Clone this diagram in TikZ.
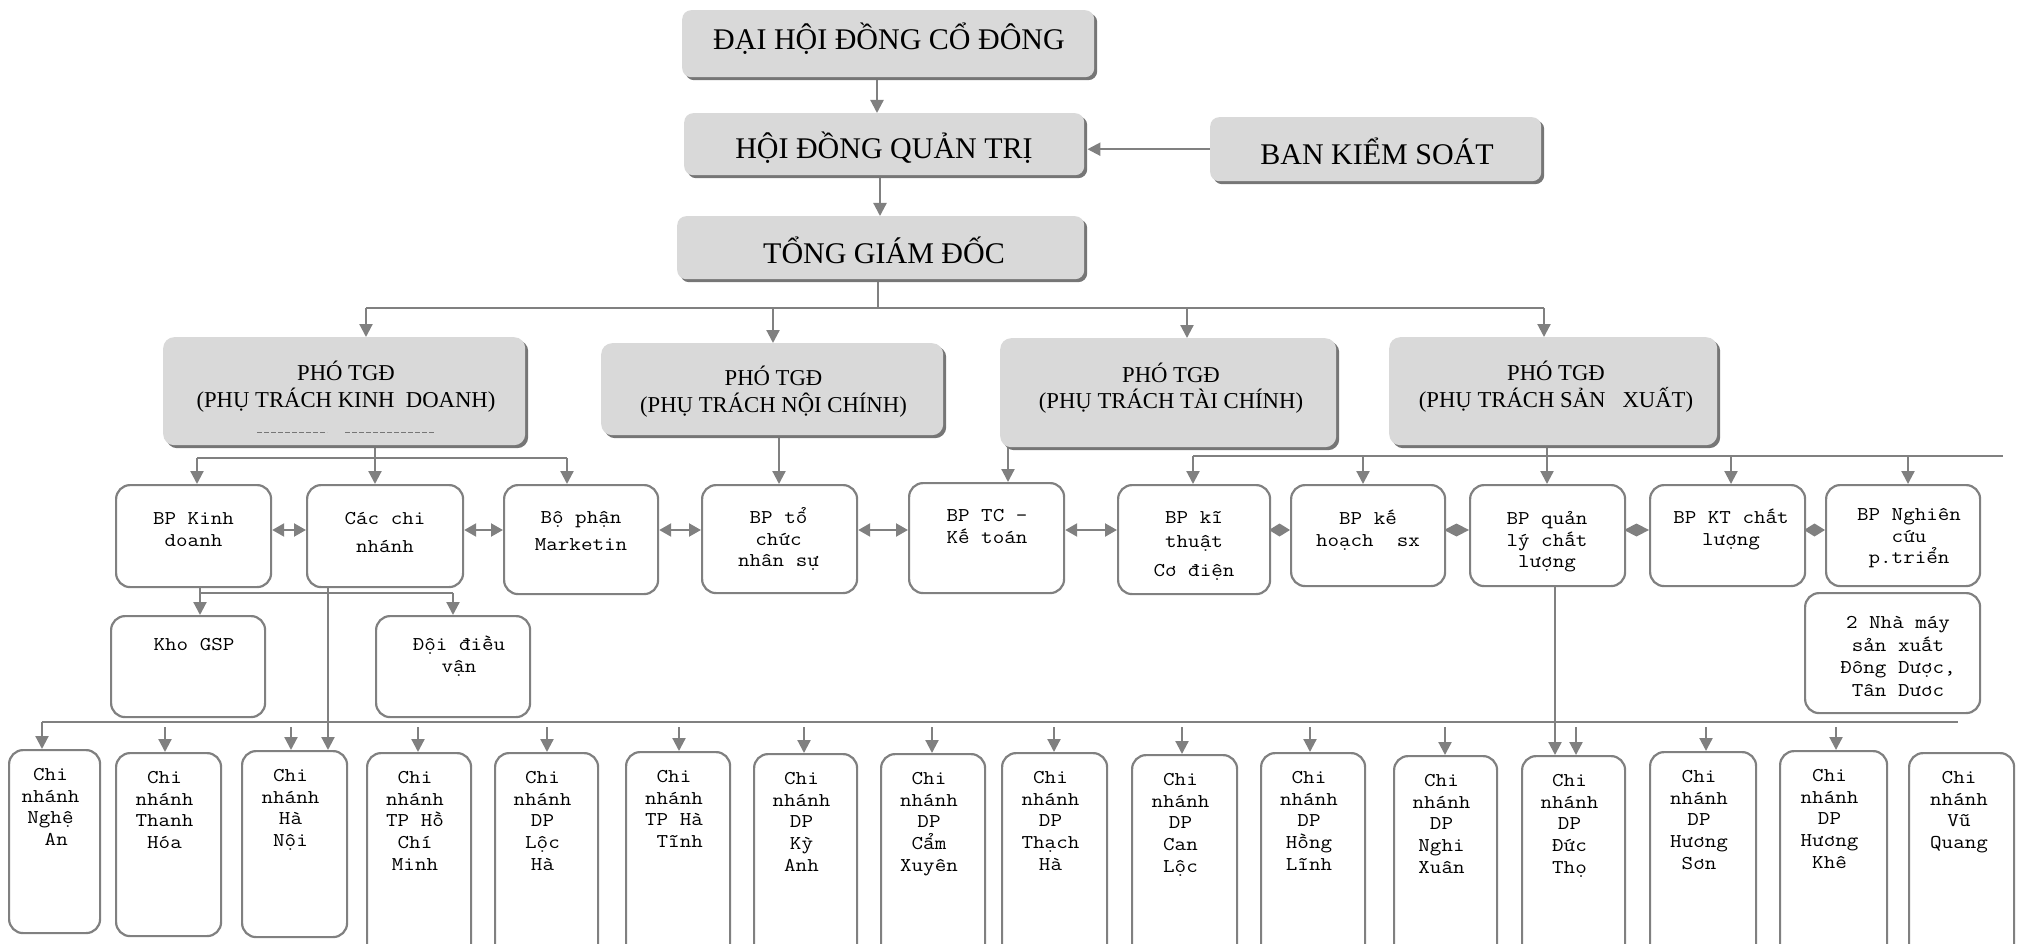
\documentclass[tikz,border=0pt]{standalone}
\usepackage{fontspec}
\setmainfont{Liberation Serif}
\newfontfamily\monof[FakeStretch=1.15]{lmmono12-regular.otf}
\usetikzlibrary{arrows.meta,shadows}
\pgfdeclarelayer{bg}
\pgfsetlayers{bg,main}
\definecolor{ln}{RGB}{128,128,128}
\definecolor{gf}{RGB}{217,217,217}
\definecolor{gs}{RGB}{118,118,118}
\newcommand\fs{\rule{0pt}{16pt}}
\begin{document}
\begin{tikzpicture}[x=1pt,y=-1pt,
  gbox/.style={fill=gf, draw=none, rounded corners=9pt, anchor=north west, inner sep=0pt,
    drop shadow={shadow xshift=3pt, shadow yshift=-3pt, fill=gs, opacity=1}},
  wbox/.style={draw=ln, line width=2.2pt, rounded corners=14pt, fill=white, anchor=north west, inner sep=0pt},
  ttl/.style={font=\fontsize{30}{34}\selectfont, anchor=base, inner sep=0pt},
  sub/.style={font=\fontsize{22.7}{27}\selectfont, anchor=base, inner sep=0pt},
  mt/.style={font={\monof\fontsize{19.5}{21.8}\selectfont\lineskiplimit=-50pt\relax}, align=center, anchor=north, inner sep=0pt},
  con/.style={draw=ln, line width=2.2pt},
  arr/.style={con, -{Triangle[width=13pt,length=13pt]}},
  darr/.style={con, {Triangle[width=13pt,length=12pt]}-{Triangle[width=13pt,length=12pt]}},
  dmd/.style={con, -{Diamond[width=13pt,length=#1]}},
]
\useasboundingbox (0,0) rectangle (2028,944);

% ---------- top gray boxes ----------
\node[gbox, minimum width=412pt, minimum height=67pt] (dh) at (682,10) {};
\node[gbox, minimum width=400pt, minimum height=62pt] (hd) at (684,113) {};
\node[gbox, minimum width=331pt, minimum height=64pt] (bks) at (1210,117) {};
\node[gbox, minimum width=407pt, minimum height=63pt] (tgd) at (677,216) {};
\node[ttl] (dhT) at (889,50) {ĐẠI HỘI ĐỒNG CỔ ĐÔNG};
\node[ttl] (hdT) at (884,159) {HỘI ĐỒNG QUẢN TRỊ};
\node[ttl] (tgdT) at (884,263) {TỔNG GIÁM ĐỐC};
\node[ttl] (bksT) at (1377,165) {BAN KIỂM SOÁT};

% ---------- deputy boxes ----------
\node[gbox, rounded corners=11pt, minimum width=362pt, minimum height=108pt] (pkd) at (163,337) {};
\node[gbox, rounded corners=11pt, minimum width=342pt, minimum height=92pt] (pnc) at (601,343) {};
\node[gbox, rounded corners=11pt, minimum width=336pt, minimum height=109pt] (ptc) at (1000,338) {};
\node[gbox, rounded corners=11pt, minimum width=328pt, minimum height=108pt] (psx) at (1389,337) {};
\node[sub] (pkdA) at (346,380) {PHÓ TGĐ};
\node[sub] (pkdB) at (346,407) {(PHỤ TRÁCH KINH\ \ DOANH)};
\node[sub] (pncA) at (773.5,385) {PHÓ TGĐ};
\node[sub] (pncB) at (773.5,412) {(PHỤ TRÁCH NỘI CHÍNH)};
\node[sub] (ptcA) at (1171,382) {PHÓ TGĐ};
\node[sub] (ptcB) at (1171,408) {(PHỤ TRÁCH TÀI CHÍNH)};
\node[sub] (psxA) at (1556,380) {PHÓ TGĐ};
\node[sub] (psxB) at (1556,407) {(PHỤ TRÁCH SẢN\ \ \ XUẤT)};
\draw[gs, line width=1pt, dash pattern=on 5pt off 2pt] (257,432) -- (327,432) (345,432) -- (435,432);

% ---------- department row ----------
\node[wbox, minimum width=155pt, minimum height=102pt] (bkd) at (115,484) {};
\node[wbox, minimum width=156pt, minimum height=102pt] (ccn) at (306,484) {};
\node[wbox, minimum width=154pt, minimum height=109pt] (mkt) at (503,484) {};
\node[wbox, minimum width=155pt, minimum height=108pt] (tcns) at (701,484) {};
\node[wbox, minimum width=155pt, minimum height=110pt] (tckt) at (908,482) {};
\node[wbox, minimum width=152pt, minimum height=109pt] (kt) at (1117,484) {};
\node[wbox, minimum width=154pt, minimum height=101pt] (khsx) at (1290,484) {};
\node[wbox, minimum width=155pt, minimum height=101pt] (qlcl) at (1469,484) {};
\node[wbox, minimum width=155pt, minimum height=101pt] (ktcl) at (1649,484) {};
\node[wbox, minimum width=154pt, minimum height=101pt] (ncpt) at (1825,484) {};
\node[wbox, minimum width=175pt, minimum height=120pt] (nm) at (1804,592) {};
\node[wbox, minimum width=154pt, minimum height=101pt] (kho) at (110,615) {};
\node[wbox, minimum width=154pt, minimum height=101pt] (ddv) at (375,615) {};

\node[mt] (bkdT) at (193.5,508) {\fs BP Kinh\\doanh};
\node[mt] (ccnT) at (385,508) {\fs Các chi\\[6pt]nhánh};
\node[mt] (mktT) at (581,507) {\fs Bộ phận\\[5pt]Marketin};
\node[mt] (tcnsT) at (778.5,507) {\fs BP tổ\\chức\\nhân sự};
\node[mt] (tcktT) at (987,505) {\fs BP TC –\\Kế toán};
\node[mt] (ktT) at (1194,507) {\fs BP kĩ\\[2pt]thuật\\[8pt]Cơ điện};
\node[mt] (khsxT) at (1368,508) {\fs BP kế\\hoạch\ \ sx};
\node[mt] (qlclT) at (1547,508) {\fs BP quản\\lý chất\\lượng};
\node[mt] (ktclT) at (1731,507) {\fs BP KT chất\\lượng};
\node[mt] (ncptT) at (1909,504) {\fs BP Nghiên\\cứu\\p.triển};
\node[mt] (nmT) at (1898,612) {\fs 2 Nhà máy\\[1pt]sản xuất\\[1pt]Đông Dược,\\[1pt]Tân Dươc};
\node[mt] (khoT) at (194,634) {\fs Kho GSP};
\node[mt] (ddvT) at (459,634) {\fs Đội điều\\vận};

% ---------- branch row ----------
\node[wbox, minimum width=91pt, minimum height=183pt] (na) at (8,749) {};
\node[wbox, minimum width=105pt, minimum height=183pt] (th) at (115,752) {};
\node[wbox, minimum width=105pt, minimum height=186pt] (hn) at (241,750) {};
\node[wbox, minimum width=104pt, minimum height=230pt] (hcm) at (366,752) {};
\node[wbox, minimum width=103pt, minimum height=230pt] (lh) at (494,752) {};
\node[wbox, minimum width=104pt, minimum height=230pt] (tht) at (625,751) {};
\node[wbox, minimum width=103pt, minimum height=230pt] (ka) at (753,753) {};
\node[wbox, minimum width=104pt, minimum height=230pt] (cx) at (880,753) {};
\node[wbox, minimum width=105pt, minimum height=230pt] (thh) at (1001,752) {};
\node[wbox, minimum width=105pt, minimum height=230pt] (cl) at (1131,754) {};
\node[wbox, minimum width=104pt, minimum height=230pt] (hl) at (1260,752) {};
\node[wbox, minimum width=103pt, minimum height=230pt] (nx) at (1393,755) {};
\node[wbox, minimum width=103pt, minimum height=230pt] (dt) at (1521,755) {};
\node[wbox, minimum width=106pt, minimum height=230pt] (hs) at (1649,751) {};
\node[wbox, minimum width=107pt, minimum height=230pt] (hk) at (1779,750) {};
\node[wbox, minimum width=105pt, minimum height=230pt] (vq) at (1908,752) {};

\node[mt] (naT) at (50.5,764) {\fs Chi\\nhánh\\Nghệ\\\hphantom{A}An};
\node[mt] (thT) at (164.5,767) {\fs Chi\\nhánh\\Thanh\\Hóa};
\node[mt] (hnT) at (290.5,765) {\fs Chi\\nhánh\\Hà\\Nội};
\node[mt] (hcmT) at (415,767) {\fs Chi\\nhánh\\TP Hồ\\Chí\\Minh};
\node[mt] (lhT) at (542.5,767) {\fs Chi\\nhánh\\DP\\Lộc\\Hà};
\node[mt] (thtT) at (674,766) {\fs Chi\\nhánh\\TP Hà\\\hphantom{A}Tĩnh};
\node[mt] (kaT) at (801.5,768) {\fs Chi\\nhánh\\DP\\Kỳ\\Anh};
\node[mt] (cxT) at (929,768) {\fs Chi\\nhánh\\DP\\Cẩm\\Xuyên};
\node[mt] (thhT) at (1050.5,767) {\fs Chi\\nhánh\\DP\\Thạch\\Hà};
\node[mt] (clT) at (1180.5,769) {\fs Chi\\nhánh\\DP\\Can\\Lộc};
\node[mt] (hlT) at (1309,767) {\fs Chi\\nhánh\\DP\\Hồng\\Lĩnh};
\node[mt] (nxT) at (1441.5,770) {\fs Chi\\nhánh\\DP\\Nghi\\Xuân};
\node[mt] (dtT) at (1569.5,770) {\fs Chi\\nhánh\\DP\\Đức\\Thọ};
\node[mt] (hsT) at (1699,766) {\fs Chi\\nhánh\\DP\\Hương\\Sơn};
\node[mt] (hkT) at (1829.5,765) {\fs Chi\\nhánh\\DP\\Hương\\Khê};
\node[mt] (vqT) at (1959,767) {\fs Chi\\nhánh\\Vũ\\Quang};

% ---------- connectors ----------
\coordinate (cA) at (877,0);
\coordinate (cB) at (880,0);
\coordinate (tgdB) at (878,308);
\coordinate (busL) at (366,308);
\coordinate (busNC) at (773,308);
\coordinate (busTC) at (1187,308);
\coordinate (busR) at (1544,308);
\coordinate (kdb) at (375,458);
\coordinate (kdL) at (197,458);
\coordinate (kdR) at (567,458);
\coordinate (ncx) at (779,0);
\coordinate (tcx) at (1008,0);
\coordinate (sxb) at (1547,456);
\coordinate (sxL) at (1193,456);
\coordinate (sxR) at (2003,456);
\coordinate (sx2) at (1363,456);
\coordinate (sx4) at (1731,456);
\coordinate (sx5) at (1908,456);
\coordinate (row) at (0,530);
\coordinate (kb) at (200,593);
\coordinate (kbR) at (453,593);
\coordinate (ccx) at (328,0);
\coordinate (qlx) at (1555,0);
\coordinate (bl) at (42,722);
\coordinate (br) at (1958,722);

\begin{pgfonlayer}{bg}
\draw[arr] (dh.south -| cA) -- (hd.north -| cA);
\draw[arr] (hd.south -| cB) -- (tgd.north -| cB);
\draw[arr] (bks.west) -- ([xshift=3pt]hd.east |- bks.west);
\draw[con] (tgd.south -| tgdB) -- (tgdB);
\draw[con] (busL) -- (busR);
\draw[arr] (busL) -- (busL |- pkd.north);
\draw[arr] (busNC) -- (busNC |- pnc.north);
\draw[arr] (busTC) -- (busTC |- ptc.north);
\draw[arr] (busR) -- (busR |- psx.north);

\draw[con] (pkd.south -| kdb) -- (kdb);
\draw[con] (kdL) -- (kdR);
\draw[arr] (kdL) -- (kdL |- bkd.north);
\draw[arr] (kdb) -- (kdb |- ccn.north);
\draw[arr] (kdR) -- (kdR |- mkt.north);
\draw[arr] (pnc.south -| ncx) -- (tcns.north -| ncx);
\draw[arr] (ptc.south -| tcx) -- (tckt.north -| tcx);
\draw[arr] (psx.south -| sxb) -- (qlcl.north -| sxb);
\draw[con] (sxL) -- (sxR);
\draw[arr] (sxL) -- (sxL |- kt.north);
\draw[arr] (sx2) -- (sx2 |- khsx.north);
\draw[arr] (sx4) -- (sx4 |- ktcl.north);
\draw[arr] (sx5) -- (sx5 |- ncpt.north);

\draw[darr] (bkd.east |- row) -- (ccn.west |- row);
\draw[darr] (ccn.east |- row) -- (mkt.west |- row);
\draw[darr] (mkt.east |- row) -- (tcns.west |- row);
\draw[darr] (tcns.east |- row) -- (tckt.west |- row);
\draw[darr] (tckt.east |- row) -- (kt.west |- row);
\draw[dmd=21pt] (kt.east |- row) -- (khsx.west |- row);
\draw[dmd=25pt] (khsx.east |- row) -- (qlcl.west |- row);
\draw[dmd=25pt] (qlcl.east |- row) -- (ktcl.west |- row);
\draw[dmd=21pt] (ktcl.east |- row) -- (ncpt.west |- row);

\draw[con] (bkd.south -| kb) -- (kb) -- (kbR);
\draw[arr] (kb) -- (kb |- kho.north);
\draw[arr] (kbR) -- (kbR |- ddv.north);
\draw[arr] (ccn.south -| ccx) -- (hn.north -| ccx);
\draw[arr] (qlcl.south -| qlx) -- (dt.north -| qlx);

\draw[con] (bl) -- (br);
\draw[arr] (bl) -- (bl |- na.north);
\foreach \x/\n in {165/th, 291/hn, 418/hcm, 547/lh, 679/tht, 804/ka, 932/cx, 1054/thh, 1182/cl, 1310/hl, 1445/nx, 1576/dt, 1706/hs, 1836/hk} {
  \coordinate (t\n) at (\x,727);
  \draw[arr] (t\n) -- (t\n |- \n.north);
}
\end{pgfonlayer}
\end{tikzpicture}
\end{document}
